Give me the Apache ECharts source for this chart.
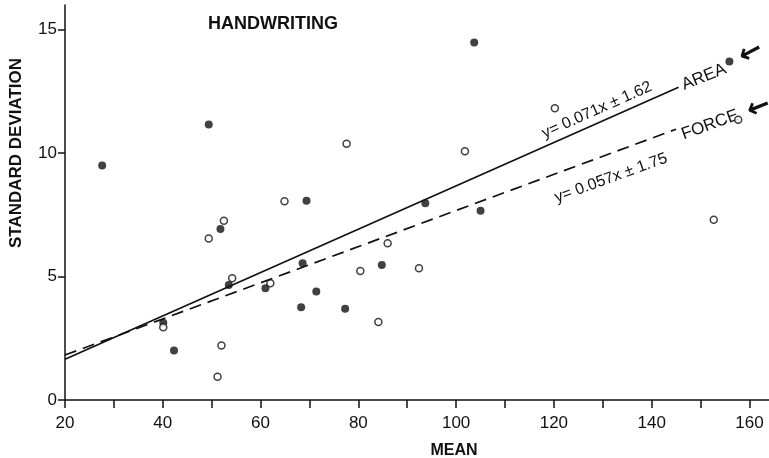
<!DOCTYPE html>
<html>
<head>
<meta charset="utf-8">
<script src="https://cdn.jsdelivr.net/npm/echarts@6/dist/echarts.min.js"></script>
<style>
html,body{margin:0;padding:0;background:#fff;}
#chart{width:769px;height:458px;}
</style>
</head>
<body>
<div id="chart"></div>
<script>
// AREA (filled circles)
var areaX = [27.6, 49.4, 51.8, 40.1, 42.3, 53.5, 61.0, 68.6, 71.4, 68.3, 77.3, 84.8, 69.4, 93.7, 105.0, 103.7];
var areaY = [9.5, 11.16, 6.93, 3.13, 2.01, 4.66, 4.53, 5.54, 4.39, 3.76, 3.70, 5.47, 8.07, 7.97, 7.67, 14.48];
// FORCE (open circles)
var forceX = [40.1, 52.0, 51.2, 49.4, 52.5, 54.2, 62.0, 64.9, 77.6, 80.4, 86.0, 92.4, 84.1, 101.8, 120.2, 152.7];
var forceY = [2.95, 2.21, 0.94, 6.54, 7.26, 4.93, 4.73, 8.05, 10.38, 5.23, 6.35, 5.34, 3.16, 10.08, 11.82, 7.3];
// key symbols beside the line labels
var areaKey = [155.9, 13.71];
var forceKey = [157.7, 11.35];
// fitted lines (end points)
var areaLineX = [20, 145.5];
var areaLineY = [1.65, 12.67];
var forceLineX = [20, 145];
var forceLineY = [1.82, 10.97];
// ticks
var xTicks = [20, 30, 40, 50, 60, 70, 80, 90, 100, 110, 120, 130, 140, 150, 160];
var xTickLabels = [20, 40, 60, 80, 100, 120, 140, 160];
var yTicks = [0, 5, 10, 15];

function zip(xs, ys) { return xs.map(function (v, i) { return [v, ys[i]]; }); }

var ink = '#111';
var font = 'Liberation Sans';
var chart = echarts.init(document.getElementById('chart'), null, {renderer: 'canvas'});
chart.setOption({
  backgroundColor: '#fff',
  animation: false,
  grid: {left: 65, right: 0, top: 5, bottom: 58, containLabel: false},
  xAxis: {
    type: 'value', min: 20, max: 164,
    axisLine: {show: true, lineStyle: {color: ink, width: 1.5}},
    axisTick: {show: true, customValues: xTicks, length: 8, lineStyle: {color: ink, width: 1.5}},
    axisLabel: {customValues: xTickLabels, margin: 15, color: ink, fontSize: 17, fontFamily: font},
    splitLine: {show: false}
  },
  yAxis: {
    type: 'value', min: 0, max: 16,
    axisLine: {show: true, lineStyle: {color: ink, width: 1.5}},
    axisTick: {show: true, customValues: yTicks, length: 7, lineStyle: {color: ink, width: 1.5}},
    axisLabel: {customValues: yTicks, margin: 8, color: ink, fontSize: 17, fontFamily: font},
    splitLine: {show: false}
  },
  series: [
    {
      type: 'line', data: zip(areaLineX, areaLineY), symbol: 'none',
      lineStyle: {color: ink, width: 1.7}
    },
    {
      type: 'line', data: zip(forceLineX, forceLineY), symbol: 'none',
      lineStyle: {color: ink, width: 1.7, type: [12, 7]}
    },
    {
      type: 'scatter', data: zip(areaX, areaY), symbol: 'circle', symbolSize: 8,
      itemStyle: {color: ink}
    },
    {
      type: 'scatter', data: zip(forceX, forceY), symbol: 'circle', symbolSize: 7,
      itemStyle: {color: '#fff', borderColor: ink, borderWidth: 1.5}
    },
    {
      type: 'scatter', data: [areaKey], symbol: 'circle', symbolSize: 8,
      itemStyle: {color: ink}
    },
    {
      type: 'scatter', data: [forceKey], symbol: 'circle', symbolSize: 7,
      itemStyle: {color: '#fff', borderColor: ink, borderWidth: 1.5}
    }
  ],
  graphic: [
    {type: 'text', x: 273, y: 24, style: {text: 'HANDWRITING', fill: ink, font: 'bold 18px "Liberation Sans"', textAlign: 'center', textVerticalAlign: 'middle'}},
    {type: 'text', x: 16, y: 153, rotation: Math.PI / 2, style: {text: 'STANDARD DEVIATION', fill: ink, font: 'bold 17px "Liberation Sans"', textAlign: 'center', textVerticalAlign: 'middle'}},
    {type: 'text', x: 454, y: 451, style: {text: 'MEAN', fill: ink, font: 'bold 16px "Liberation Sans"', textAlign: 'center', textVerticalAlign: 'middle'}},
    {type: 'text', x: 597, y: 110, rotation: 24 * Math.PI / 180, style: {text: 'y= 0.071x ± 1.62', fill: ink, font: '16px "Liberation Sans"', textAlign: 'center', textVerticalAlign: 'middle'}},
    {type: 'text', x: 611, y: 178, rotation: 20 * Math.PI / 180, style: {text: 'y= 0.057x ± 1.75', fill: ink, font: '16px "Liberation Sans"', textAlign: 'center', textVerticalAlign: 'middle'}},
    {type: 'text', x: 704, y: 77, rotation: 22 * Math.PI / 180, style: {text: 'AREA', fill: ink, font: '17px "Liberation Sans"', textAlign: 'center', textVerticalAlign: 'middle'}},
    {type: 'text', x: 710, y: 125, rotation: 20 * Math.PI / 180, style: {text: 'FORCE', fill: ink, font: '17px "Liberation Sans"', textAlign: 'center', textVerticalAlign: 'middle'}},
    {type: 'text', x: 751, y: 53, rotation: 28 * Math.PI / 180, style: {text: '←', fill: ink, font: 'bold 28px "DejaVu Sans"', textAlign: 'center', textVerticalAlign: 'middle'}},
    {type: 'text', x: 759, y: 108, rotation: 22 * Math.PI / 180, style: {text: '←', fill: ink, font: 'bold 28px "DejaVu Sans"', textAlign: 'center', textVerticalAlign: 'middle'}}
  ]
});
</script>
</body>
</html>
